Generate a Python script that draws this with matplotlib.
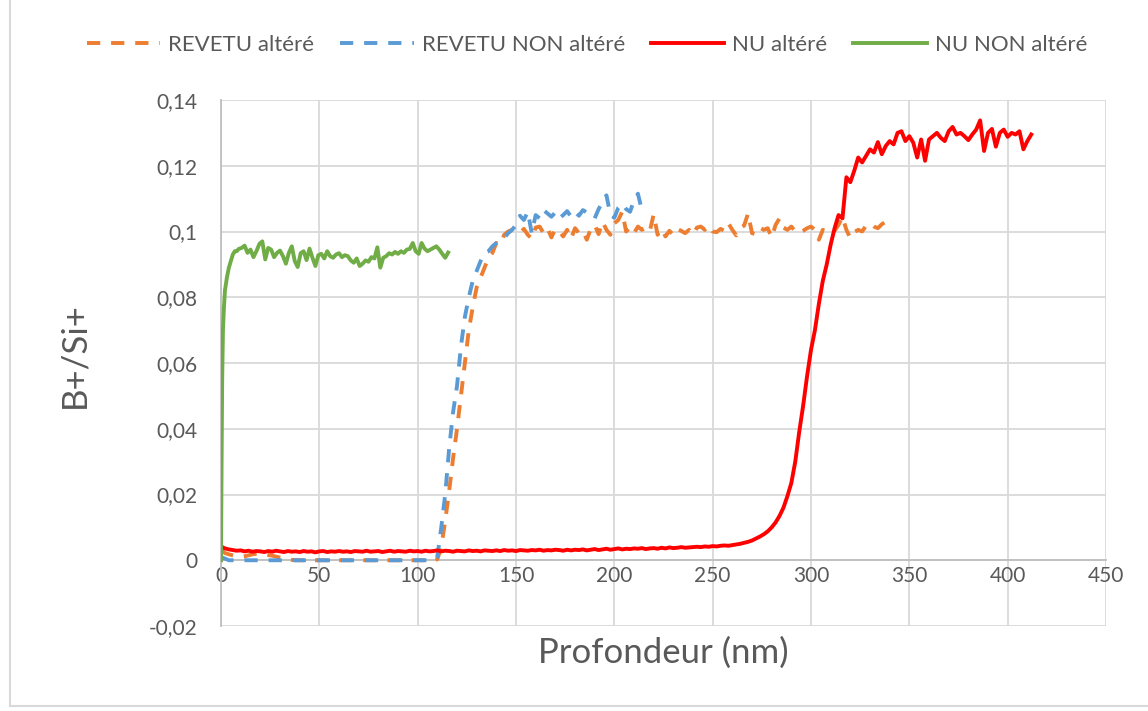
import numpy as np
import matplotlib
matplotlib.use("Agg")
import matplotlib.pyplot as plt
from matplotlib.lines import Line2D

plt.rcParams['font.family'] = ['Lato', 'DejaVu Sans']

# ---------------------------------------------------------------- data
series_names = ["REVETU altéré", "REVETU NON altéré", "NU altéré", "NU NON altéré"]

# REVETU altéré : depth grid 0..340 nm, step 2 nm
revetu_alt_step = 2.0
revetu_alt = [
    # 0 - 40 nm
    0.0030, 0.0022, 0.0018, 0.0015, 0.0012, 0.0010, 0.0012, 0.0015, 0.0018, 0.0020,
    0.0021, 0.0019, 0.0016, 0.0014, 0.0011, 0.0008, 0.0005, 0.0003, 0.0001, 0.0000,
    0.0000,
    # 42 - 110 nm
    0.0000, 0.0000, 0.0000, 0.0000, 0.0000, 0.0000, 0.0000, 0.0000, 0.0000, 0.0000,
    0.0000, 0.0000, 0.0000, 0.0000, 0.0000, 0.0000, 0.0000, 0.0000, 0.0000, 0.0000,
    0.0000, 0.0000, 0.0000, 0.0000, 0.0000, 0.0000, 0.0000, 0.0000, 0.0000, 0.0000,
    0.0000, 0.0000, 0.0000, 0.0000, 0.0003,
    # 112 - 148 nm
    0.0040, 0.0120, 0.0210, 0.0310, 0.0400, 0.0500, 0.0600, 0.0700, 0.0770, 0.0830,
    0.0860, 0.0890, 0.0920, 0.0935, 0.0965, 0.0960, 0.0990, 0.1000, 0.1005,
    # 150 - 340 nm
    0.1002, 0.0995, 0.1008, 0.0990, 0.0978, 0.1012, 0.1015, 0.0995, 0.1010, 0.0982,
    0.1008, 0.1000, 0.0985, 0.1005, 0.0978, 0.1010, 0.0995, 0.1002, 0.0975, 0.1008,
    0.1020, 0.0992, 0.1030, 0.1005, 0.0990, 0.1025, 0.1035, 0.1060, 0.1000, 0.1012,
    0.0995, 0.1015, 0.1005, 0.1012, 0.1000, 0.1052, 0.0990, 0.1008, 0.0985, 0.1002,
    0.0990, 0.1008, 0.1002, 0.0995, 0.1005, 0.0990, 0.1012, 0.1015, 0.1005, 0.1018,
    0.1000, 0.0998, 0.1008, 0.1002, 0.1025, 0.1005, 0.0988, 0.1010, 0.1018, 0.1055,
    0.0995, 0.0992, 0.1012, 0.1005, 0.1010, 0.0982, 0.1020, 0.1040, 0.1012, 0.1005,
    0.1015, 0.1000, 0.0995, 0.1002, 0.1010, 0.1015, 0.1005, 0.0975, 0.1005, 0.1000,
    0.1008, 0.1002, 0.1020, 0.1045, 0.1005, 0.0980, 0.0998, 0.1005, 0.1000, 0.1018,
    0.1025, 0.1015, 0.1010, 0.1022, 0.1030, 0.1035,
]

# REVETU NON altéré : depth grid 0..214 nm, step 2 nm
revetu_non_step = 2.0
revetu_non = [
    # 0 - 108 nm
    0.0010, 0.0005, 0.0000, 0.0000, 0.0000, 0.0000, 0.0000, 0.0000, 0.0000, 0.0000,
    0.0000, 0.0000, 0.0000, 0.0000, 0.0000, 0.0000, 0.0000, 0.0000, 0.0000, 0.0000,
    0.0000, 0.0000, 0.0000, 0.0000, 0.0000, 0.0000, 0.0000, 0.0000, 0.0000, 0.0000,
    0.0000, 0.0000, 0.0000, 0.0000, 0.0000, 0.0000, 0.0000, 0.0000, 0.0000, 0.0000,
    0.0000, 0.0000, 0.0000, 0.0000, 0.0000, 0.0000, 0.0000, 0.0000, 0.0000, 0.0000,
    0.0000, 0.0000, 0.0000, 0.0000, 0.0000,
    # 110 - 148 nm
    0.0010, 0.0100, 0.0200, 0.0340, 0.0450, 0.0530, 0.0650, 0.0740, 0.0800, 0.0850,
    0.0880, 0.0910, 0.0935, 0.0940, 0.0955, 0.0965, 0.0975, 0.0980, 0.0995, 0.1005,
    # 150 - 214 nm
    0.1020, 0.1048, 0.1035, 0.1060, 0.0995, 0.1050, 0.1040, 0.1065, 0.1055, 0.1045,
    0.1058, 0.1040, 0.1050, 0.1062, 0.1045, 0.1060, 0.1048, 0.1065, 0.1058, 0.1050,
    0.1040, 0.1068, 0.1090, 0.1110, 0.1050, 0.1042, 0.1072, 0.1085, 0.1068, 0.1060,
    0.1095, 0.1115, 0.1065,
]

# NU altéré : depth grid 0..412 nm, step 2 nm
nu_alt_step = 2.0
nu_alt = [
    # 0 - 240 nm
    0.0042, 0.0036, 0.0033, 0.0031, 0.0029, 0.0030, 0.0027, 0.0029, 0.0026, 0.0028,
    0.0027, 0.0025, 0.0028, 0.0026, 0.0029, 0.0027, 0.0025, 0.0028, 0.0026, 0.0027,
    0.0025, 0.0028, 0.0026, 0.0027, 0.0024, 0.0027, 0.0028, 0.0025, 0.0027, 0.0026,
    0.0028, 0.0026, 0.0027, 0.0025, 0.0028, 0.0027, 0.0026, 0.0029, 0.0026, 0.0027,
    0.0028, 0.0025, 0.0027, 0.0029, 0.0026, 0.0028, 0.0027, 0.0026, 0.0029, 0.0027,
    0.0028, 0.0026, 0.0029, 0.0027, 0.0028, 0.0030, 0.0027, 0.0029, 0.0028, 0.0026,
    0.0029, 0.0028, 0.0027, 0.0030, 0.0028, 0.0029, 0.0027, 0.0030, 0.0029, 0.0028,
    0.0030, 0.0028, 0.0031, 0.0029, 0.0030, 0.0028, 0.0031, 0.0030, 0.0029, 0.0031,
    0.0030, 0.0032, 0.0029, 0.0031, 0.0030, 0.0032, 0.0031, 0.0029, 0.0032, 0.0030,
    0.0032, 0.0031, 0.0033, 0.0030, 0.0032, 0.0034, 0.0031, 0.0033, 0.0035, 0.0032,
    0.0034, 0.0036, 0.0033, 0.0035, 0.0034, 0.0036, 0.0035, 0.0037, 0.0034, 0.0036,
    0.0037, 0.0035, 0.0038, 0.0036, 0.0039, 0.0037, 0.0038, 0.0040, 0.0038, 0.0039,
    0.0040,
    # 242 - 310 nm
    0.0041, 0.0040, 0.0042, 0.0041, 0.0043, 0.0042, 0.0044, 0.0045, 0.0044, 0.0046,
    0.0048, 0.0050, 0.0053, 0.0056, 0.0060, 0.0066, 0.0072, 0.0079, 0.0088, 0.0100,
    0.0115, 0.0135, 0.0160, 0.0195, 0.0235, 0.0300, 0.0390, 0.0470, 0.0560, 0.0640,
    0.0700, 0.0780, 0.0850, 0.0900, 0.0960,
    # 312 - 412 nm
    0.1010, 0.1050, 0.1040, 0.1165, 0.1150, 0.1185, 0.1225, 0.1210, 0.1230, 0.1250,
    0.1240, 0.1272, 0.1235, 0.1260, 0.1275, 0.1265, 0.1300, 0.1305, 0.1275, 0.1290,
    0.1270, 0.1225, 0.1280, 0.1215, 0.1280, 0.1290, 0.1300, 0.1285, 0.1275, 0.1305,
    0.1318, 0.1295, 0.1300, 0.1290, 0.1278, 0.1295, 0.1310, 0.1338, 0.1245, 0.1300,
    0.1312, 0.1258, 0.1300, 0.1310, 0.1288, 0.1300, 0.1295, 0.1305, 0.1250, 0.1275,
    0.1295,
]

# NU NON altéré : steep onset (irregular depths) then plateau every 1.5 nm from 9 nm
nu_non_onset_depth = [0, 0.3, 0.6, 1, 1.5, 2, 3, 4, 5, 6, 7, 8]
nu_non_onset = [0.0, 0.030, 0.055, 0.070, 0.077, 0.082, 0.086, 0.089, 0.091, 0.093, 0.094, 0.094]
nu_non_plateau_start = 9.0
nu_non_plateau_step = 1.5
nu_non_plateau = [
    0.0947, 0.0950, 0.0957, 0.0935, 0.0945, 0.0922, 0.0940, 0.0962, 0.0970, 0.0915,
    0.0950, 0.0945, 0.0922, 0.0935, 0.0942, 0.0925, 0.0902, 0.0935, 0.0955, 0.0910,
    0.0892, 0.0934, 0.0940, 0.0913, 0.0948, 0.0920, 0.0895, 0.0928, 0.0932, 0.0918,
    0.0940, 0.0925, 0.0920, 0.0930, 0.0934, 0.0922, 0.0928, 0.0925, 0.0912, 0.0905,
    0.0918, 0.0895, 0.0902, 0.0912, 0.0908, 0.0922, 0.0918, 0.0952, 0.0890, 0.0920,
    0.0925, 0.0934, 0.0930, 0.0938, 0.0932, 0.0940, 0.0935, 0.0945, 0.0947, 0.0965,
    0.0940, 0.0932, 0.0965, 0.0948, 0.0940, 0.0945, 0.0950, 0.0955, 0.0945, 0.0932,
    0.0920, 0.0936,
]

x_ticks = [0, 50, 100, 150, 200, 250, 300, 350, 400, 450]
y_ticks = [-0.02, 0, 0.02, 0.04, 0.06, 0.08, 0.10, 0.12, 0.14]
y_tick_labels = ["-0,02", "0", "0,02", "0,04", "0,06", "0,08", "0,1", "0,12", "0,14"]

# ---------------------------------------------------------------- depths
d_revetu_alt = revetu_alt_step * np.arange(len(revetu_alt))
d_revetu_non = revetu_non_step * np.arange(len(revetu_non))
d_nu_alt = nu_alt_step * np.arange(len(nu_alt))
d_nu_non = np.concatenate([nu_non_onset_depth,
                           nu_non_plateau_start + nu_non_plateau_step * np.arange(len(nu_non_plateau))])
v_nu_non = np.concatenate([nu_non_onset, nu_non_plateau])

# ---------------------------------------------------------------- figure
W, H = 1148, 711
fig = plt.figure(figsize=(W / 100, H / 100), dpi=100)
ax = fig.add_axes([221 / W, 1 - 626 / H, (1106 - 221) / W, (626 - 100) / H])

text_col = "#595959"
grid_col = "#D9D9D9"
lw = 2.8
dash = (3.4, 2.8)

orange = "#ED7D31"
blue = "#5B9BD5"
red = "#FF0000"
green = "#70AD47"

ax.plot(d_revetu_alt, revetu_alt, color=orange, lw=lw, dashes=dash,
        dash_capstyle="butt", dash_joinstyle="round", label=series_names[0], zorder=3)
ax.plot(d_revetu_non, revetu_non, color=blue, lw=lw, dashes=dash,
        dash_capstyle="butt", dash_joinstyle="round", label=series_names[1], zorder=4)
ax.plot(d_nu_alt, nu_alt, color=red, lw=lw, solid_joinstyle="round",
        label=series_names[2], zorder=5)
ax.plot(d_nu_non, v_nu_non, color=green, lw=lw, solid_joinstyle="round",
        label=series_names[3], zorder=6)

ax.set_xlim(0, 450)
ax.set_ylim(-0.02, 0.14)
ax.set_xticks(x_ticks)
ax.set_xticklabels([str(t) for t in x_ticks])
ax.set_yticks(y_ticks)
ax.set_yticklabels(y_tick_labels)

ax.grid(True, color=grid_col, lw=1.3, zorder=0)
ax.set_axisbelow(True)
for s in ["top", "right"]:
    ax.spines[s].set_visible(False)
ax.spines["left"].set_color("#BFBFBF")
ax.spines["left"].set_linewidth(1.3)
ax.spines["bottom"].set_position(("data", 0))
ax.spines["bottom"].set_color("#BFBFBF")
ax.spines["bottom"].set_linewidth(1.3)

ax.tick_params(axis="both", length=0, labelsize=15, labelcolor=text_col)
ax.tick_params(axis="y", pad=17)
ax.tick_params(axis="x", pad=4)

ax.set_xlabel("Profondeur (nm)", fontsize=25, color=text_col, labelpad=0)
ax.xaxis.set_label_coords(0.5, (626 - 637) / 526, transform=ax.transAxes)
ax.set_ylabel("B+/Si+", fontsize=25, color=text_col)
ax.yaxis.set_label_coords((90 - 221) / 885, (626 - 355) / 526, transform=ax.transAxes)

handles, labels = ax.get_legend_handles_labels()
fig.legend(handles, labels, loc="center", ncol=4, frameon=False,
           bbox_to_anchor=(587 / W, 1 - 45 / H), fontsize=16,
           handlelength=3.3, handletextpad=0.36, columnspacing=1.17,
           labelcolor=text_col)

# chart frame edges
fig.add_artist(Line2D([9.5 / W, 9.5 / W], [1 - 706 / H, 1], color=grid_col, lw=1.5,
                      transform=fig.transFigure))
fig.add_artist(Line2D([9.5 / W, 1], [1 - 706 / H, 1 - 706 / H], color=grid_col, lw=1.5,
                      transform=fig.transFigure))

fig.savefig("out.png", dpi=100)
